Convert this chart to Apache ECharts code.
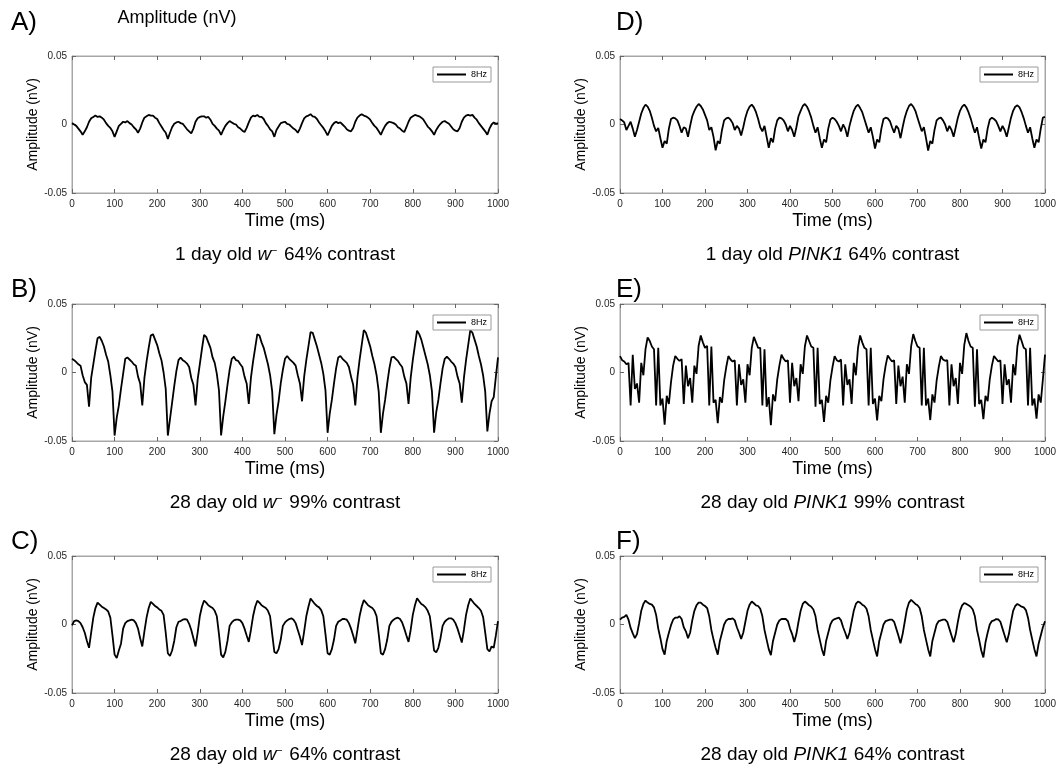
<!DOCTYPE html>
<html><head><meta charset="utf-8">
<script src="https://cdn.jsdelivr.net/npm/echarts@6/dist/echarts.min.js"></script>
<style>html,body{margin:0;padding:0;background:#fff}#c{width:1061px;height:772px}</style>
</head><body><div id="c"></div><script>
// sampling step of the traces (ms); each array holds one value every 5 ms from 0 to 1000 ms
const TIME_STEP_MS = 5;
const X_MIN = 0, X_MAX = 1000, X_STEP = 100;
const Y_MIN = -0.05, Y_MAX = 0.05, Y_STEP = 0.05;

// A) 1 day old w- 64% contrast
const ampA = [
0.001,0,-0.001,-0.003,-0.005,-0.0075,-0.005,-0.002,0.002,0.0045,0.0055,0.0065,0.0055,0.006,0.005,0.0035,0.001,-0.001,-0.0025,-0.005,-0.009,-0.005,-0.001,0.0005,0.002,
0.0015,0.0025,0.001,0,-0.002,-0.0035,-0.006,-0.003,0.0015,0.005,0.006,0.007,0.0065,0.0065,0.005,0.004,0.001,-0.0015,-0.004,-0.006,-0.0105,-0.006,-0.002,0.0005,0.0015,
0.002,0.001,0.0005,-0.0015,-0.0035,-0.005,-0.0065,-0.003,0.002,0.0045,0.0055,0.006,0.006,0.005,0.0055,0.0035,0.0005,-0.001,-0.003,-0.0045,-0.0075,-0.004,-0.001,0.001,0.0025,
0.0015,0.0005,0,-0.002,-0.003,-0.0045,-0.0055,-0.0025,0.0015,0.005,0.0065,0.006,0.007,0.0055,0.0055,0.004,0.001,-0.001,-0.0035,-0.005,-0.009,-0.004,-0.0015,0.001,0.0015,
0.002,0.0005,0,-0.0015,-0.003,-0.004,-0.006,-0.003,0.001,0.0045,0.006,0.0065,0.0075,0.006,0.0055,0.004,0.0015,-0.0005,-0.0025,-0.005,-0.008,-0.0045,-0.001,0.001,0.002,
0.001,0.0015,0,-0.0015,-0.0035,-0.0045,-0.005,-0.0025,0.002,0.005,0.0065,0.0075,0.0065,0.006,0.005,0.0035,0.001,-0.001,-0.0025,-0.005,-0.0075,-0.004,-0.001,0.001,0.002,
0.0015,0.001,0,-0.002,-0.003,-0.0045,-0.0055,-0.002,0.002,0.005,0.006,0.007,0.0065,0.006,0.005,0.0035,0.001,-0.0015,-0.003,-0.005,-0.0075,-0.004,-0.0015,0.0005,0.002,
0.0025,0.0015,0.0005,-0.0015,-0.0035,-0.0045,-0.005,-0.0025,0.002,0.005,0.0065,0.007,0.0065,0.007,0.005,0.0035,0.001,-0.001,-0.003,-0.005,-0.0075,-0.003,0,0.0015,0.0005,
0.001];

// B) 28 day old w- 99% contrast
const ampB = [
0.01,0.009,0.0075,0.006,0.005,-0.002,-0.007,-0.009,-0.025,-0.004,0.006,0.016,0.025,0.026,0.023,0.019,0.013,0.008,-0.002,-0.014,-0.046,-0.033,-0.024,-0.012,-0.001,
0.01,0.011,0.0095,0.008,0.006,0.005,-0.003,-0.008,-0.024,-0.004,0.008,0.018,0.027,0.028,0.024,0.02,0.014,0.009,0,-0.012,-0.046,-0.034,-0.022,-0.01,0.001,
0.009,0.011,0.009,0.008,0.0065,0.004,-0.004,-0.009,-0.024,-0.005,0.006,0.017,0.0275,0.026,0.022,0.018,0.011,0.007,-0.001,-0.013,-0.046,-0.032,-0.021,-0.009,0.002,
0.01,0.0115,0.009,0.0085,0.006,0.004,-0.003,-0.008,-0.023,-0.004,0.008,0.018,0.028,0.027,0.022,0.018,0.012,0.006,-0.002,-0.014,-0.045,-0.031,-0.021,-0.008,0.002,
0.01,0.012,0.01,0.0085,0.007,0.005,-0.002,-0.008,-0.021,-0.003,0.009,0.019,0.0295,0.029,0.024,0.019,0.013,0.007,-0.001,-0.013,-0.044,-0.03,-0.02,-0.008,0.003,
0.011,0.012,0.01,0.0085,0.007,0.004,-0.003,-0.009,-0.024,-0.004,0.009,0.02,0.031,0.029,0.024,0.019,0.012,0.006,-0.002,-0.014,-0.044,-0.03,-0.02,-0.008,0.003,
0.011,0.0115,0.01,0.0085,0.006,0.004,-0.003,-0.008,-0.023,-0.004,0.009,0.02,0.0305,0.028,0.024,0.018,0.012,0.006,-0.002,-0.014,-0.044,-0.029,-0.02,-0.008,0.003,
0.01,0.0115,0.01,0.008,0.0065,0.004,-0.003,-0.008,-0.022,-0.004,0.009,0.02,0.031,0.029,0.024,0.019,0.012,0.006,-0.002,-0.014,-0.043,-0.03,-0.021,-0.018,-0.003,
0.011];

// C) 28 day old w- 64% contrast
const ampC = [
-0.0007,0.0025,0.003,0.0025,0.001,-0.002,-0.006,-0.012,-0.017,-0.006,0.005,0.012,0.016,0.0145,0.013,0.012,0.011,0.0095,0.005,-0.008,-0.022,-0.0245,-0.019,-0.014,-0.003,
0.001,0.0025,0.003,0.0035,0.003,0.001,-0.003,-0.01,-0.016,-0.005,0.005,0.012,0.0165,0.015,0.0135,0.0125,0.011,0.01,0.007,-0.006,-0.021,-0.023,-0.019,-0.012,-0.002,
0.002,0.0025,0.0035,0.004,0.0035,0.0005,-0.004,-0.01,-0.016,-0.006,0.006,0.013,0.0175,0.016,0.014,0.013,0.012,0.01,0.006,-0.007,-0.022,-0.024,-0.02,-0.012,-0.001,
0.0015,0.003,0.0035,0.0035,0.003,0.001,-0.003,-0.008,-0.0127,-0.004,0.006,0.013,0.0173,0.016,0.014,0.013,0.012,0.01,0.006,-0.007,-0.02,-0.021,-0.018,-0.011,-0.001,
0.0015,0.003,0.004,0.0045,0.0035,0.001,-0.004,-0.009,-0.015,-0.005,0.006,0.013,0.019,0.017,0.015,0.0135,0.0125,0.0105,0.006,-0.007,-0.021,-0.022,-0.018,-0.011,-0.001,
0.002,0.003,0.004,0.004,0.0035,0.001,-0.003,-0.008,-0.0137,-0.004,0.006,0.013,0.0178,0.016,0.014,0.013,0.012,0.01,0.006,-0.007,-0.021,-0.022,-0.018,-0.011,-0.001,
0.002,0.0035,0.0045,0.005,0.004,0.0015,-0.003,-0.008,-0.0127,-0.004,0.007,0.014,0.0192,0.017,0.015,0.014,0.0125,0.01,0.006,-0.006,-0.019,-0.0204,-0.017,-0.01,-0.001,
0.002,0.0035,0.0045,0.0045,0.0035,0.001,-0.003,-0.008,-0.0132,-0.004,0.007,0.014,0.019,0.017,0.015,0.0135,0.012,0.01,0.0055,-0.006,-0.018,-0.0197,-0.016,-0.017,-0.008,
0.0025];

// D) 1 day old PINK1 64% contrast
const ampD = [
0.004,0.003,0.0015,-0.004,-0.001,0.002,-0.003,-0.009,-0.004,0.002,0.008,0.012,0.0145,0.013,0.01,0.005,-0.001,-0.005,-0.0025,-0.01,-0.017,-0.012,-0.014,-0.003,0.004,
0.005,0.0045,0.003,-0.001,-0.006,-0.002,-0.003,-0.009,-0.001,0.006,0.01,0.013,0.015,0.0135,0.011,0.007,0.003,-0.004,-0.002,-0.009,-0.0188,-0.012,-0.014,-0.004,0.003,
0.0045,0.005,0.0035,0.001,-0.004,-0.001,-0.003,-0.008,-0.002,0.005,0.01,0.013,0.0145,0.0125,0.009,0.004,-0.002,-0.005,-0.001,-0.009,-0.017,-0.01,-0.013,-0.003,0.003,
0.005,0.0045,0.003,0,-0.005,-0.001,-0.004,-0.009,-0.002,0.006,0.01,0.0135,0.015,0.013,0.0095,0.005,-0.001,-0.006,-0.002,-0.01,-0.017,-0.011,-0.013,-0.003,0.0035,
0.005,0.004,0.002,-0.001,-0.005,0,-0.003,-0.009,-0.001,0.005,0.01,0.013,0.0145,0.012,0.009,0.004,-0.001,-0.006,-0.002,-0.009,-0.0175,-0.011,-0.013,-0.003,0.004,
0.005,0.0045,0.0025,-0.002,-0.006,-0.001,-0.003,-0.01,-0.002,0.005,0.01,0.0135,0.015,0.013,0.01,0.005,0,-0.005,-0.002,-0.01,-0.019,-0.012,-0.014,-0.004,0.003,
0.0045,0.005,0.003,0,-0.005,-0.001,-0.004,-0.009,-0.002,0.005,0.01,0.013,0.0145,0.0125,0.009,0.0045,-0.001,-0.006,-0.002,-0.01,-0.0175,-0.011,-0.013,-0.003,0.0035,
0.005,0.004,0.0025,-0.001,-0.005,-0.001,-0.004,-0.009,-0.002,0.005,0.01,0.013,0.014,0.0125,0.009,0.0045,-0.001,-0.006,-0.002,-0.01,-0.017,-0.011,-0.013,-0.003,0.005,
0.0055];

// E) 28 day old PINK1 99% contrast
const ampE = [
0.012,0.009,0.008,0.006,0.007,-0.024,0.013,-0.012,-0.008,-0.022,0.007,-0.002,0.017,0.0256,0.023,0.019,0.017,-0.024,0.018,-0.024,-0.019,-0.038,-0.017,-0.023,-0.007,
0.005,0.012,0.01,0.0085,0.0098,-0.023,0.005,-0.01,-0.004,-0.022,0.005,-0.001,0.0195,0.027,0.022,0.018,0.0195,-0.024,0.019,-0.022,-0.02,-0.037,-0.018,-0.022,-0.006,
0.004,0.012,0.0095,0.008,0.009,-0.024,0.006,-0.009,-0.005,-0.022,0.006,-0.002,0.018,0.026,0.022,0.018,0.018,-0.024,0.017,-0.025,-0.018,-0.0385,-0.016,-0.021,-0.005,
0.005,0.013,0.01,0.008,0.009,-0.022,0.007,-0.01,-0.004,-0.021,0.006,-0.001,0.019,0.027,0.023,0.019,0.018,-0.025,0.018,-0.023,-0.02,-0.036,-0.017,-0.022,-0.006,
0.004,0.012,0.009,0.008,0.0095,-0.024,0.006,-0.009,-0.005,-0.023,0.007,-0.002,0.018,0.027,0.022,0.018,0.017,-0.024,0.018,-0.023,-0.019,-0.035,-0.017,-0.021,-0.005,
0.005,0.0125,0.01,0.008,0.009,-0.023,0.005,-0.01,-0.003,-0.022,0.006,-0.001,0.019,0.028,0.023,0.019,0.018,-0.024,0.018,-0.024,-0.019,-0.0347,-0.016,-0.022,-0.006,
0.004,0.012,0.0095,0.0085,0.009,-0.024,0.006,-0.01,-0.004,-0.023,0.007,-0.001,0.02,0.0288,0.023,0.019,0.018,-0.025,0.017,-0.023,-0.02,-0.034,-0.017,-0.021,-0.005,
0.005,0.012,0.01,0.008,0.009,-0.023,0.006,-0.009,-0.005,-0.022,0.006,-0.002,0.019,0.0276,0.023,0.018,0.017,-0.024,0.018,-0.024,-0.019,-0.0337,-0.016,-0.022,-0.005,
0.013];

// F) 28 day old PINK1 64% contrast
const ampF = [
0.0035,0.005,0.0055,0.007,0.0035,-0.0025,-0.0065,-0.01,-0.007,0.001,0.01,0.015,0.0175,0.016,0.015,0.0145,0.0125,0.007,-0.003,-0.01,-0.018,-0.022,-0.012,-0.006,-0.0005,
0.0035,0.005,0.005,0.006,0.004,-0.002,-0.005,-0.01,-0.006,0.003,0.01,0.014,0.016,0.016,0.0145,0.0135,0.012,0.006,-0.004,-0.011,-0.017,-0.022,-0.012,-0.006,0,
0.003,0.004,0.004,0.0045,0.003,-0.002,-0.006,-0.0105,-0.006,0.002,0.01,0.0145,0.0168,0.0155,0.014,0.0135,0.0115,0.006,-0.004,-0.011,-0.018,-0.0224,-0.012,-0.006,0,
0.003,0.004,0.004,0.004,0.0025,-0.003,-0.007,-0.0127,-0.007,0.002,0.01,0.015,0.0168,0.0155,0.014,0.013,0.011,0.006,-0.004,-0.011,-0.018,-0.0228,-0.012,-0.006,0,
0.003,0.004,0.0045,0.005,0.003,-0.002,-0.006,-0.0105,-0.006,0.002,0.01,0.015,0.0168,0.016,0.0145,0.0135,0.0115,0.006,-0.004,-0.011,-0.018,-0.0233,-0.012,-0.006,0,
0.0025,0.003,0.0035,0.0036,0.002,-0.003,-0.008,-0.0137,-0.007,0.002,0.011,0.016,0.018,0.0165,0.015,0.014,0.012,0.006,-0.004,-0.011,-0.018,-0.0233,-0.012,-0.006,0,
0.0025,0.003,0.0035,0.0036,0.002,-0.003,-0.008,-0.013,-0.007,0.002,0.01,0.014,0.0156,0.015,0.014,0.013,0.011,0.006,-0.004,-0.011,-0.019,-0.024,-0.013,-0.006,0,
0.0025,0.003,0.004,0.0038,0.002,-0.003,-0.008,-0.013,-0.007,0.002,0.01,0.0135,0.015,0.014,0.013,0.0125,0.0105,0.005,-0.004,-0.011,-0.018,-0.0233,-0.014,-0.008,-0.002,
0.0024];

const seriesName = '8Hz';
const panelLetters = ['A)', 'B)', 'C)', 'D)', 'E)', 'F)'];
const subtitles = [
  '{n|1 day old }{i|w}{s|\u2013}{n| 64% contrast}',
  '{n|28 day old }{i|w}{s|\u2013}{n| 99% contrast}',
  '{n|28 day old }{i|w}{s|\u2013}{n| 64% contrast}',
  '{n|1 day old }{i|PINK1}{n| 64% contrast}',
  '{n|28 day old }{i|PINK1}{n| 99% contrast}',
  '{n|28 day old }{i|PINK1}{n| 64% contrast}'
];
const xTitle = 'Time (ms)';
const yTitle = 'Amplitude (nV)';
const topTitle = 'Amplitude (nV)';
const panelData = [ampA, ampB, ampC, ampD, ampE, ampF];

// ---- layout ----
const FONT = '"Liberation Sans", Arial, Helvetica, sans-serif';
const COL_LEFT = [72, 620], COL_W = [426, 425];
const ROW_TOP = [56, 304, 556], ROW_H = 137;
const AXIS_GRAY = '#a6a6a6';

const grids = [], xAxes = [], yAxes = [], series = [], legends = [], graphics = [];
panelData.forEach((amp, i) => {
  const col = Math.floor(i / 3), row = i % 3;
  const left = COL_LEFT[col], top = ROW_TOP[row], w = COL_W[col];
  grids.push({left: left, top: top, width: w, height: ROW_H, show: true,
    borderColor: AXIS_GRAY, borderWidth: 1, backgroundColor: '#fff'});
  const common = {type: 'value', min: X_MIN, max: X_MAX, interval: X_STEP, gridIndex: i,
    axisLine: {show: true, onZero: false, lineStyle: {color: AXIS_GRAY, width: 1}},
    axisTick: {show: true, inside: true, length: 4, lineStyle: {color: '#666'}},
    splitLine: {show: false}};
  xAxes.push(Object.assign({}, common, {position: 'bottom',
    axisLabel: {fontSize: 10, color: '#262626', fontFamily: FONT, margin: 6,
      formatter: v => String(v)},
    name: xTitle, nameLocation: 'middle', nameGap: 19,
    nameTextStyle: {fontSize: 18, color: '#000', fontFamily: FONT}}));
  xAxes.push(Object.assign({}, common, {position: 'top', axisLabel: {show: false}}));
  const ycommon = {type: 'value', min: Y_MIN, max: Y_MAX, interval: Y_STEP, gridIndex: i,
    axisLine: {show: true, onZero: false, lineStyle: {color: AXIS_GRAY, width: 1}},
    axisTick: {show: true, inside: true, length: 4, lineStyle: {color: '#666'}},
    splitLine: {show: false}};
  yAxes.push(Object.assign({}, ycommon, {position: 'left',
    axisLabel: {fontSize: 10, color: '#262626', fontFamily: FONT, margin: 5,
      formatter: v => (Math.abs(v) < 1e-9 ? '0' : v.toFixed(2))},
    name: yTitle, nameLocation: 'middle', nameGap: 23,
    nameTextStyle: {fontSize: 14, color: '#000', fontFamily: FONT}}));
  yAxes.push(Object.assign({}, ycommon, {position: 'right', axisLabel: {show: false}}));
  series.push({type: 'line', name: seriesName, xAxisIndex: 2 * i, yAxisIndex: 2 * i,
    data: amp.map((v, k) => [k * TIME_STEP_MS, v]),
    symbol: 'none', showSymbol: false, smooth: false,
    lineStyle: {color: '#000', width: 1.8}, itemStyle: {color: '#000'}});
  legends.push({data: [{name: seriesName, icon: 'rect'}], left: left + w - 65, top: top + 11,
    orient: 'horizontal', itemWidth: 29, itemHeight: 2, itemGap: 5,
    padding: [3, 4, 3, 4], borderColor: '#9a9a9a', borderWidth: 1, borderRadius: 0,
    backgroundColor: '#fff', selectedMode: false,
    itemStyle: {color: '#000'},
    textStyle: {fontSize: 9, color: '#000', fontFamily: FONT, lineHeight: 9}});
  const letterY = row === 0 ? 23 : top - 14;
  graphics.push({type: 'text', left: (col === 0 ? 11 : 616), top: letterY - 13,
    style: {text: panelLetters[i], fontSize: 26, fontFamily: FONT, fill: '#000'}});
  graphics.push({type: 'text', x: left + w / 2, y: top + ROW_H + 62,
    style: {text: subtitles[i], align: 'center', verticalAlign: 'middle',
      fill: '#000', fontFamily: FONT, fontSize: 19,
      rich: {
        n: {fontSize: 19, fontFamily: FONT, fill: '#000'},
        i: {fontSize: 19, fontFamily: FONT, fontStyle: 'italic', fill: '#000'},
        s: {fontSize: 10, fontFamily: FONT, fill: '#000', verticalAlign: 'top', padding: [0, 2, 0, 0]}
      }}});
});
graphics.push({type: 'text', x: 177, y: 18,
  style: {text: topTitle, align: 'center', verticalAlign: 'middle', fontSize: 18, fontFamily: FONT, fill: '#000'}});

const chart = echarts.init(document.getElementById('c'), null, {renderer: 'canvas'});
chart.setOption({
  animation: false,
  backgroundColor: '#fff',
  grid: grids, xAxis: xAxes, yAxis: yAxes, series: series, legend: legends, graphic: graphics
});
</script></body></html>
